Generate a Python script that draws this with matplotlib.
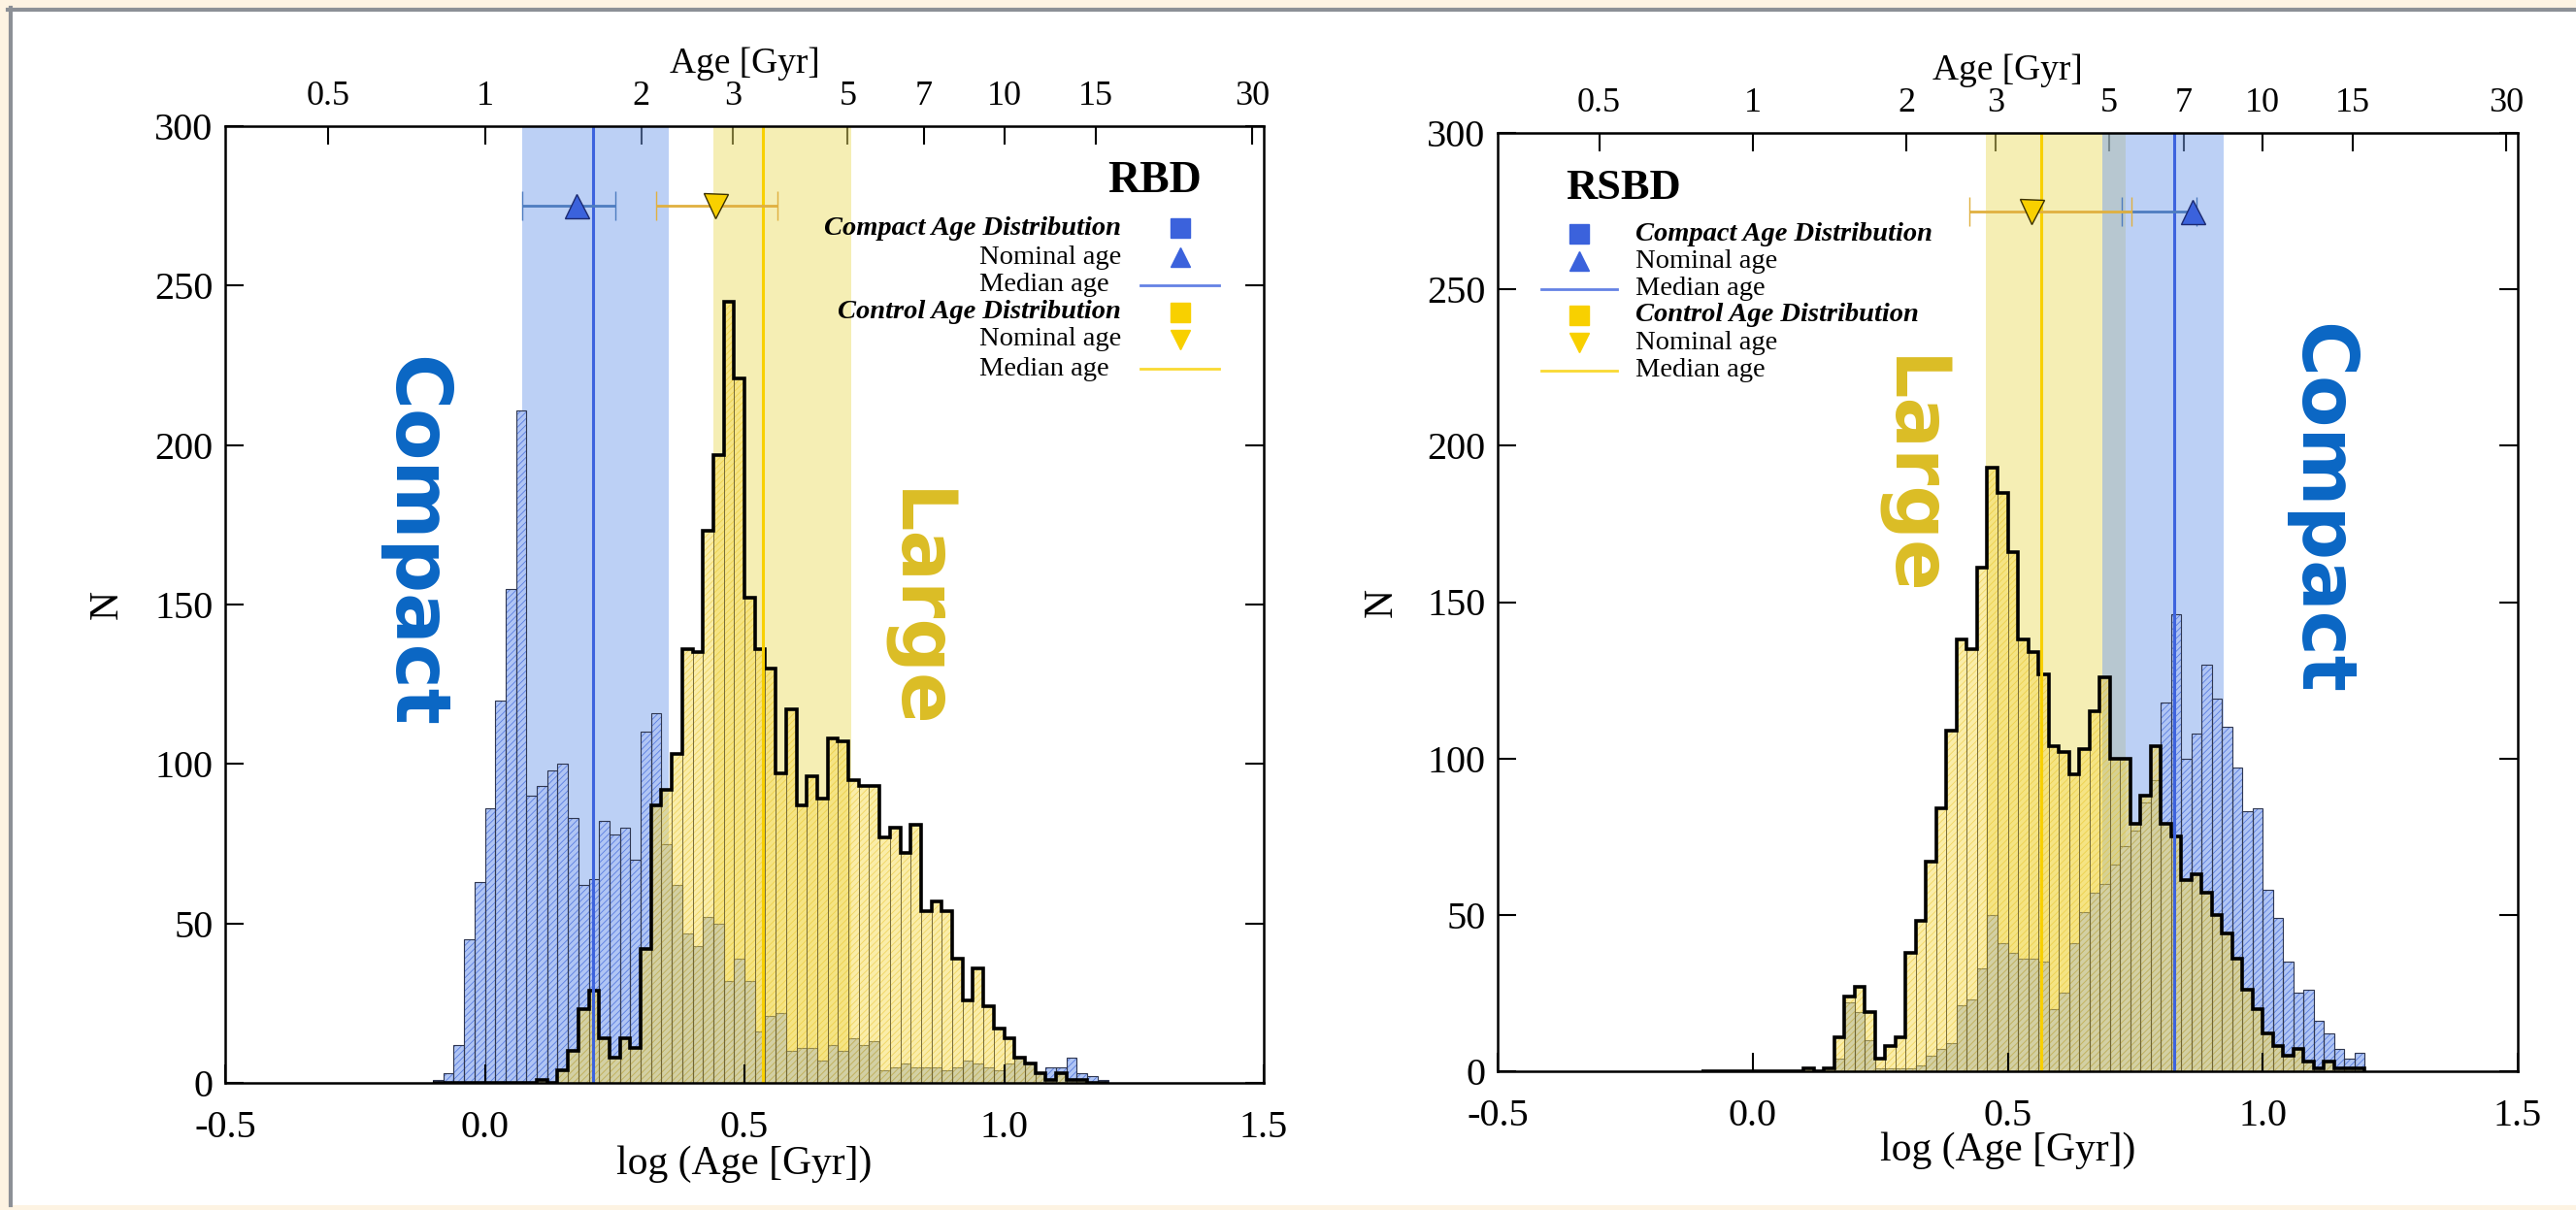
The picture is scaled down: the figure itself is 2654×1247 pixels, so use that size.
import numpy as np
import matplotlib
matplotlib.use("Agg")
import matplotlib.pyplot as plt
from matplotlib.patches import Rectangle
from matplotlib.lines import Line2D

plt.rcParams['font.family'] = ['Liberation Serif', 'DejaVu Serif']
plt.rcParams['axes.unicode_minus'] = False
plt.rcParams['hatch.linewidth'] = 0.6

# log(Age [Gyr]) histogram bins: width 0.02 starting at -0.10
bin_lo = -0.10
bin_w = 0.02
n_bins = 65

# counts per bin
rbd_compact = [1, 3, 12, 45, 63, 86, 120, 155, 211, 90, 93, 98, 100, 83, 62, 64, 82, 78, 80, 70,
               110, 116, 75, 62, 47, 43, 52, 50, 32, 39, 32, 16, 21, 22, 10, 11, 11, 7, 12, 10,
               14, 12, 13, 4, 5, 6, 5, 5, 5, 4, 5, 7, 6, 5, 4, 6, 8, 6, 3, 5, 5, 8, 3, 2, 1]
rbd_control = [0, 0, 0, 0, 0, 0, 0, 0, 0, 0, 1, 0, 4, 10, 23, 29, 14, 8, 14, 11,
               42, 87, 92, 103, 136, 135, 173, 197, 245, 221, 152, 136, 130, 97, 117, 87, 96, 89, 108, 107,
               95, 93, 93, 77, 80, 72, 81, 54, 57, 54, 39, 26, 36, 24, 17, 14, 8, 6, 3, 1, 3, 1, 1, 0, 0]
rsbd_compact = [0, 0, 0, 0, 0, 0, 0, 0, 0, 0, 0, 0, 0, 4, 22, 19, 10, 1, 1, 1,
                1, 2, 5, 7, 9, 21, 23, 33, 50, 41, 38, 36, 36, 35, 20, 25, 41, 51, 57, 60,
                66, 72, 77, 86, 93, 118, 146, 100, 108, 130, 119, 110, 97, 83, 84, 58, 49, 35, 25, 26,
                16, 12, 7, 4, 6]
rsbd_control = [0, 0, 0, 0, 0, 0, 0, 0, 0, 0, 1, 0, 1, 11, 24, 27, 19, 4, 8, 11,
                38, 48, 67, 84, 109, 138, 135, 161, 193, 185, 166, 138, 134, 127, 104, 102, 95, 103, 115, 126,
                100, 100, 79, 88, 104, 79, 75, 61, 63, 57, 50, 44, 36, 26, 20, 12, 8, 5, 7, 3,
                1, 3, 1, 1, 1]

# shaded ranges, medians and nominal ages (log Age)
rbd_compact_band = (0.072, 0.354)
rbd_control_band = (0.441, 0.705)
rbd_compact_median = 0.208
rbd_control_median = 0.536
rbd_compact_nominal = (0.176, 0.072, 0.252)   # value, low, high
rbd_control_nominal = (0.444, 0.330, 0.564)

rsbd_compact_band = (0.686, 0.924)
rsbd_control_band = (0.457, 0.731)
rsbd_compact_median = 0.826
rsbd_control_median = 0.566
rsbd_compact_nominal = (0.862, 0.723, 0.870)
rsbd_control_nominal = (0.546, 0.425, 0.742)

age_ticks = [0.5, 1, 2, 3, 5, 7, 10, 15, 30]
age_labels = ['0.5', '1', '2', '3', '5', '7', '10', '15', '30']

edges = bin_lo + bin_w * np.arange(n_bins + 1)

BLUE_FILL = '#b0c5f4'
BLUE_HATCH = '#5a7de0'
BLUE_BAND = '#7ba2ec'
BLUE_LINE = '#3d63de'
BLUE_MARK = '#3b62dc'
BLUE_ERR = '#4d7cc0'
YEL_FILL = '#f6dc55'
YEL_HATCH = '#e7be18'
YEL_BAND = '#ecdf6a'
YEL_LINE = '#f8d000'
YEL_MARK = '#f8d000'
YEL_ERR = '#e0b040'

W, H = 2654, 1247
fig = plt.figure(figsize=(W / 100, H / 100), dpi=100)
fig.patch.set_facecolor('#fdf3e2')
fig.add_artist(Rectangle((10 / W, 1 - 1242 / H), 1.0, (1242 - 10) / H,
                         transform=fig.transFigure, facecolor='white', edgecolor='none', zorder=-10))
fig.add_artist(Line2D([8 / W, 1], [1 - 10 / H, 1 - 10 / H], transform=fig.transFigure,
                      color='#8c9096', lw=3, zorder=-9))
fig.add_artist(Line2D([10.5 / W, 10.5 / W], [1 - 8 / H, 1 - 1242 / H], transform=fig.transFigure,
                      color='#8c9096', lw=3, zorder=-9))


def fx(px):
    return px / W


def fy(py):
    return 1 - py / H


def draw_hist(ax, counts, face, hatch_col, edge_col, alpha, z, edge_lw):
    left = edges[:-1]
    ax.bar(left, counts, width=bin_w, align='edge', color=face, alpha=alpha, lw=0, zorder=z)
    ax.bar(left, counts, width=bin_w, align='edge', facecolor='none', edgecolor=hatch_col,
           hatch='/////', lw=0, alpha=alpha, zorder=z + 0.01)
    ax.bar(left, counts, width=bin_w, align='edge', facecolor='none', edgecolor=edge_col,
           lw=edge_lw, zorder=z + 0.02)


def panel(rect, compact, control, c_band, y_band, c_med, y_med, c_nom, y_nom, band_order):
    ax = fig.add_axes(rect)
    for which in band_order:
        if which == 'c':
            ax.axvspan(*c_band, color=BLUE_BAND, alpha=0.5, lw=0, zorder=0.2)
        else:
            ax.axvspan(*y_band, color=YEL_BAND, alpha=0.5, lw=0, zorder=0.2)

    draw_hist(ax, compact, BLUE_FILL, BLUE_HATCH, '#2e3650', 1.0, 1.0, 0.8)
    draw_hist(ax, control, YEL_FILL, YEL_HATCH, '#6b6030', 0.5, 1.2, 0.5)
    ax.stairs(control, edges, color='black', lw=2.6, zorder=1.5)

    ax.axvline(c_med, color=BLUE_LINE, lw=2.2, zorder=1.6)
    ax.axvline(y_med, color=YEL_LINE, lw=2.2, zorder=1.6)

    v, lo, hi = c_nom
    ax.errorbar([v], [275], xerr=[[v - lo], [hi - v]], fmt='^', ms=18, mfc=BLUE_MARK, mec='#1c2a70',
                mew=1, ecolor=BLUE_ERR, elinewidth=2, capsize=11, capthick=1.5, zorder=4)
    v, lo, hi = y_nom
    ax.errorbar([v], [275], xerr=[[v - lo], [hi - v]], fmt='v', ms=18, mfc=YEL_MARK, mec='#3a3000',
                mew=1, ecolor=YEL_ERR, elinewidth=2, capsize=11, capthick=1.5, zorder=4)

    ax.set_xlim(-0.5, 1.5)
    ax.set_ylim(0, 300)
    ax.set_xticks([-0.5, 0.0, 0.5, 1.0, 1.5], ['-0.5', '0.0', '0.5', '1.0', '1.5'])
    ax.set_yticks([0, 50, 100, 150, 200, 250, 300])
    ax.tick_params(direction='in', length=14, width=1.5, top=False, right=True, labelsize=29)
    ax.tick_params(axis='x', pad=20)
    ax.tick_params(axis='y', pad=9)
    for s in ax.spines.values():
        s.set_linewidth(1.8)

    ax.set_xlabel('log (Age [Gyr])', fontsize=30)
    ax.xaxis.set_label_coords(0.5, -0.085)
    ax.xaxis.label.set_va('center')
    ax.set_ylabel('N', fontsize=30)
    ax.yaxis.set_label_coords(-0.114, 0.5)
    ax.yaxis.label.set_va('center')

    top = ax.secondary_xaxis('top', functions=(lambda x: 10 ** x,
                                               lambda a: np.log10(np.maximum(a, 1e-3))))
    top.set_xticks(age_ticks, age_labels)
    top.tick_params(direction='in', length=14, width=1.5, labelsize=26, pad=10)
    top.set_xlabel('Age [Gyr]', fontsize=27, labelpad=6)
    return ax


ax1 = panel([232 / W, 1 - 1116 / H, 1070 / W, 986 / H], rbd_compact, rbd_control,
            rbd_compact_band, rbd_control_band, rbd_compact_median, rbd_control_median,
            rbd_compact_nominal, rbd_control_nominal, ['c', 'y'])
ax2 = panel([1543 / W, 1 - 1104 / H, 1051 / W, 967 / H], rsbd_compact, rsbd_control,
            rsbd_compact_band, rsbd_control_band, rsbd_compact_median, rsbd_control_median,
            rsbd_compact_nominal, rsbd_control_nominal, ['y', 'c'])

# big labels
big = dict(rotation=270, ha='center', va='center', family='DejaVu Sans', weight='bold', size=56)
fig.text(fx(426), fy(558), 'Compact', color='#0a66c4', **big)
fig.text(fx(943), fy(628), 'Large', color='#dbbd25', **big)
fig.text(fx(1967), fy(491), 'Large', color='#dbbd25', **big)
fig.text(fx(2390), fy(524), 'Compact', color='#0a66c4', **big)


def key_marker(x, y, marker, color, ms=14):
    fig.add_artist(Line2D([fx(x)], [fy(y)], transform=fig.transFigure, marker=marker,
                          ms=ms, color=color, lw=0))


def key_line(x0, x1, y, color):
    fig.add_artist(Line2D([fx(x0), fx(x1)], [fy(y), fy(y)], transform=fig.transFigure,
                          color=color, lw=2, alpha=0.8))


# legend, RBD panel (text on the left, keys on the right)
fig.text(fx(1238), fy(187), 'RBD', ha='right', va='center', size=33, weight='bold')
rows = [(235, 'Compact Age Distribution', 'head'), (265, 'Nominal age', 'n'), (294, 'Median age', 'n'),
        (322, 'Control Age Distribution', 'head'), (350, 'Nominal age', 'n'), (380, 'Median age', 'n')]
for y, label, kind in rows:
    if kind == 'head':
        fig.text(fx(1155), fy(y), label, ha='right', va='center', size=20.5, weight='bold', style='italic')
    else:
        fig.text(fx(1009), fy(y), label, ha='left', va='center', size=20.5)
key_marker(1216, 235, 's', BLUE_MARK)
key_marker(1216, 265, '^', BLUE_MARK)
key_line(1175, 1256, 294, BLUE_LINE)
key_marker(1216, 322, 's', YEL_MARK)
key_marker(1216, 350, 'v', YEL_MARK)
key_line(1175, 1256, 380, YEL_LINE)

# legend, RSBD panel (keys on the left, text on the right)
fig.text(fx(1613), fy(194), 'RSBD', ha='left', va='center', size=32, weight='bold')
rows = [(241, 'Compact Age Distribution', 'head'), (269, 'Nominal age', 'n'), (298, 'Median age', 'n'),
        (325, 'Control Age Distribution', 'head'), (353, 'Nominal age', 'n'), (382, 'Median age', 'n')]
for y, label, kind in rows:
    if kind == 'head':
        fig.text(fx(1685), fy(y), label, ha='left', va='center', size=20.5, weight='bold', style='italic')
    else:
        fig.text(fx(1685), fy(y), label, ha='left', va='center', size=20.5)
key_marker(1627, 241, 's', BLUE_MARK)
key_marker(1627, 269, '^', BLUE_MARK)
key_line(1588, 1666, 298, BLUE_LINE)
key_marker(1627, 325, 's', YEL_MARK)
key_marker(1627, 353, 'v', YEL_MARK)
key_line(1588, 1666, 382, YEL_LINE)

fig.savefig('out.png', dpi=100, facecolor=fig.get_facecolor())
